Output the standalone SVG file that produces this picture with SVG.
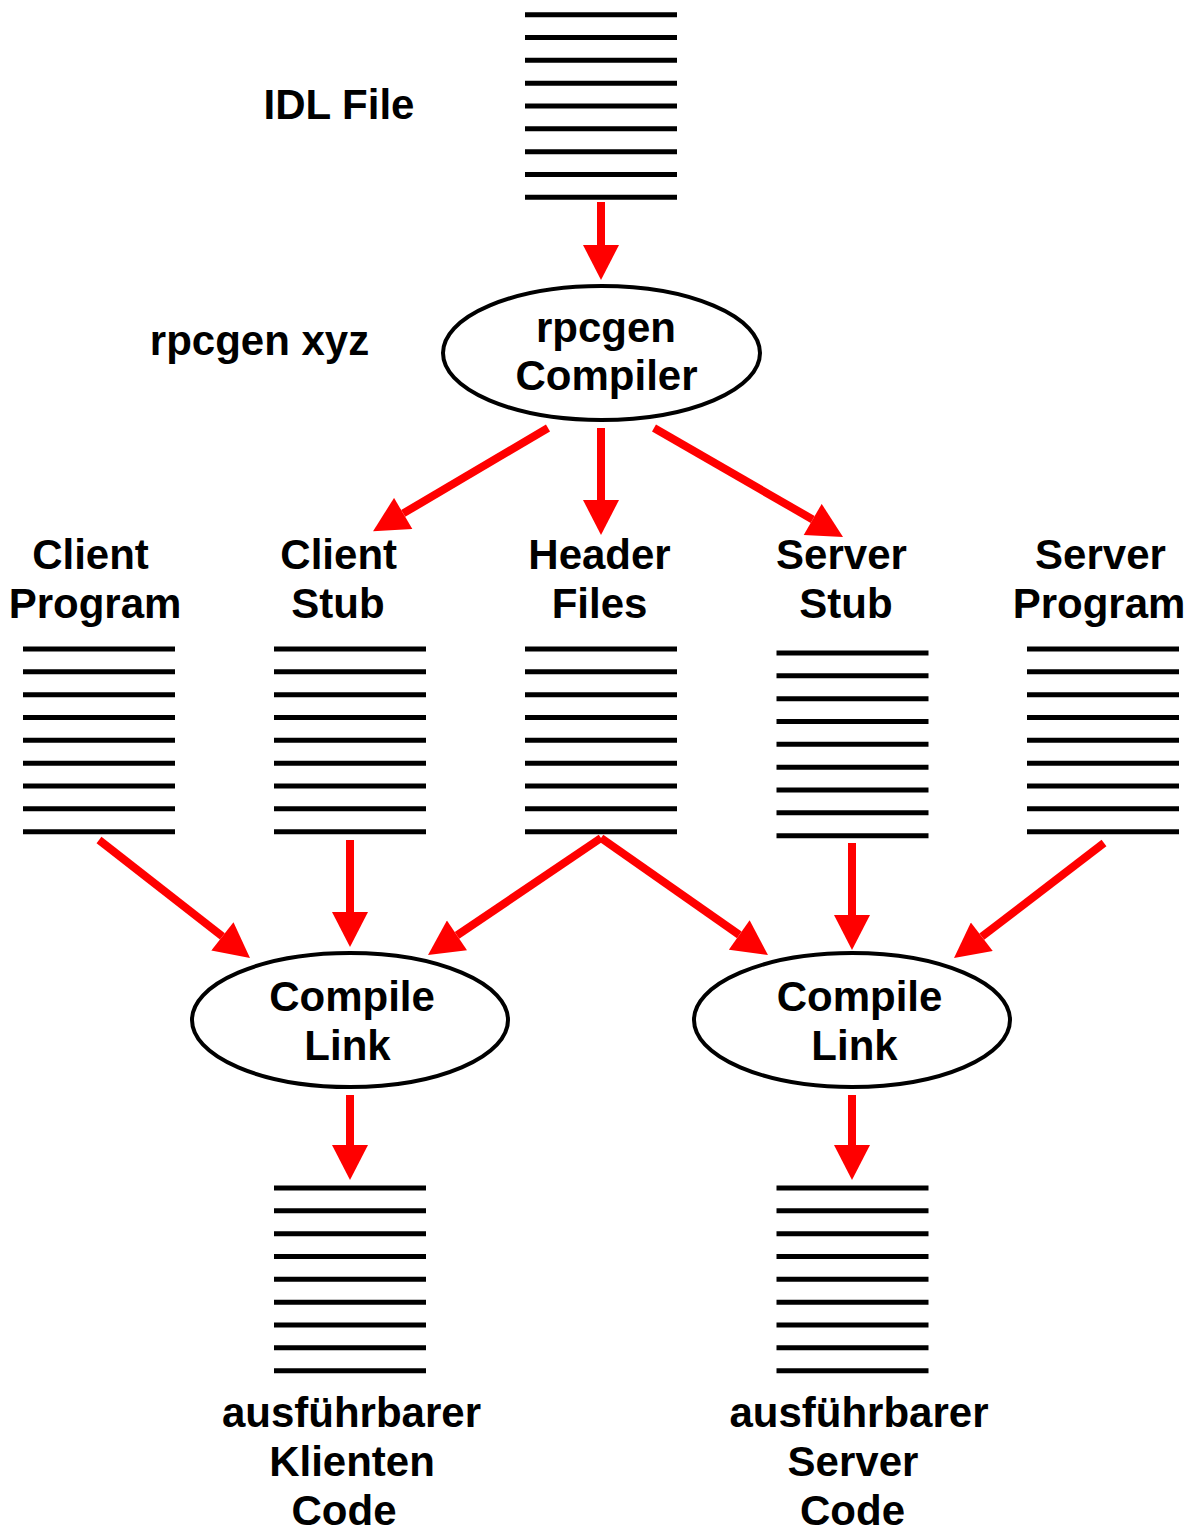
<svg xmlns="http://www.w3.org/2000/svg" width="1197" height="1531" viewBox="0 0 1197 1531">
<style>
.t{font-family:"Liberation Sans",Arial,sans-serif;font-weight:bold;font-size:42px;fill:#000;text-anchor:middle}
.stk{stroke:#000;stroke-width:5}
.oval{fill:#fff;stroke:#000;stroke-width:4}
.arr{stroke:#ff0000;stroke-width:8;fill:none;marker-end:url(#ah)}
</style>
<defs>
<marker id="ah" markerUnits="userSpaceOnUse" markerWidth="36" markerHeight="36" refX="0" refY="18" orient="auto" viewBox="0 0 35 36">
<path d="M0,0 L35,18 L0,36 Z" fill="#ff0000"/>
</marker>
<g id="lines">
<line x1="0" y1="0" x2="152" y2="0"/>
<line x1="0" y1="22.83" x2="152" y2="22.83"/>
<line x1="0" y1="45.66" x2="152" y2="45.66"/>
<line x1="0" y1="68.5" x2="152" y2="68.5"/>
<line x1="0" y1="91.33" x2="152" y2="91.33"/>
<line x1="0" y1="114.16" x2="152" y2="114.16"/>
<line x1="0" y1="137" x2="152" y2="137"/>
<line x1="0" y1="159.83" x2="152" y2="159.83"/>
<line x1="0" y1="182.66" x2="152" y2="182.66"/>
</g>
</defs>
<rect width="1197" height="1531" fill="#fff"/>

<g id="idl-file">
<use class="stk" href="#lines" x="525" y="14.7"/>
<text class="t" x="339" y="119">IDL File</text>
</g>

<g id="rpcgen-label">
<text class="t" x="259.5" y="355">rpcgen xyz</text>
</g>

<g id="rpcgen-compiler">
<ellipse class="oval" cx="601.5" cy="353" rx="158.5" ry="67"/>
<text class="t" x="606" y="342">rpcgen</text>
<text class="t" x="606.5" y="390">Compiler</text>
</g>

<g id="client-program">
<text class="t" x="90.5" y="569">Client</text>
<text class="t" x="95" y="618">Program</text>
<use class="stk" href="#lines" x="23" y="649"/>
</g>

<g id="client-stub">
<text class="t" x="338.7" y="569">Client</text>
<text class="t" x="338" y="618">Stub</text>
<use class="stk" href="#lines" x="274" y="649"/>
</g>

<g id="header-files">
<text class="t" x="599.5" y="569">Header</text>
<text class="t" x="599.5" y="618">Files</text>
<use class="stk" href="#lines" x="525" y="649"/>
</g>

<g id="server-stub">
<text class="t" x="841.5" y="569">Server</text>
<text class="t" x="846" y="618">Stub</text>
<use class="stk" href="#lines" x="776.5" y="653"/>
</g>

<g id="server-program">
<text class="t" x="1100.5" y="569">Server</text>
<text class="t" x="1099" y="618">Program</text>
<use class="stk" href="#lines" x="1027" y="649"/>
</g>

<g id="compile-link-client">
<ellipse class="oval" cx="350" cy="1020" rx="158" ry="67"/>
<text class="t" x="352" y="1011">Compile</text>
<text class="t" x="347.5" y="1060">Link</text>
</g>

<g id="compile-link-server">
<ellipse class="oval" cx="852" cy="1020" rx="158" ry="67"/>
<text class="t" x="859.5" y="1011">Compile</text>
<text class="t" x="854.5" y="1060">Link</text>
</g>

<g id="client-executable">
<use class="stk" href="#lines" x="274" y="1188"/>
<text class="t" x="351.5" y="1427">ausführbarer</text>
<text class="t" x="352" y="1476">Klienten</text>
<text class="t" x="344" y="1525">Code</text>
</g>

<g id="server-executable">
<use class="stk" href="#lines" x="776.5" y="1188"/>
<text class="t" x="859" y="1427">ausführbarer</text>
<text class="t" x="853" y="1476">Server</text>
<text class="t" x="852.5" y="1525">Code</text>
</g>

<g id="connectors">
<line class="arr" x1="601" y1="202" x2="601" y2="245"/>
<line class="arr" x1="548" y1="428" x2="403.2" y2="513.4"/>
<line class="arr" x1="601" y1="428" x2="601" y2="500"/>
<line class="arr" x1="654" y1="428" x2="812.7" y2="519.5"/>
<line class="arr" x1="99" y1="840" x2="222.4" y2="936.4"/>
<line class="arr" x1="350" y1="840" x2="350" y2="912"/>
<line class="arr" x1="601" y1="838" x2="457" y2="935.4"/>
<line class="arr" x1="601" y1="838" x2="739.3" y2="934.9"/>
<line class="arr" x1="852" y1="843" x2="852" y2="915"/>
<line class="arr" x1="1104" y1="843" x2="981.8" y2="936.7"/>
<line class="arr" x1="350" y1="1095" x2="350" y2="1145"/>
<line class="arr" x1="852" y1="1095" x2="852" y2="1145"/>
</g>
</svg>
